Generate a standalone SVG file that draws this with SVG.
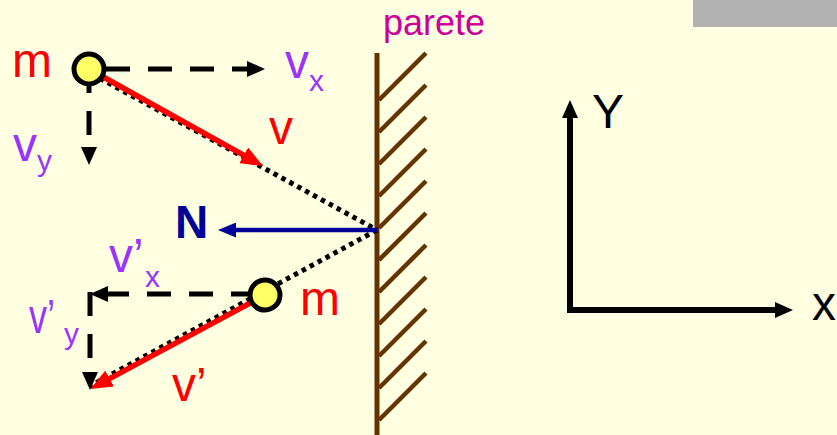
<svg xmlns="http://www.w3.org/2000/svg" width="837" height="435" viewBox="0 0 837 435">
<style>
text{font-family:"Liberation Sans",Arial,sans-serif}
.big{font-size:48px}
.sub{font-size:30px}
.red{fill:#FF0000}
.pur{fill:#9933FF}
.dash{fill:none;stroke:#000;stroke-width:5;stroke-dasharray:24 18}
.dot{fill:none;stroke:#000;stroke-width:5;stroke-dasharray:4.5 4.5}
.vel{fill:none;stroke:#FF0000;stroke-width:5.5}
.ball{fill:#FFFF66;stroke:#000;stroke-width:5}
.hatch{stroke:#663300;stroke-width:4.5}
</style>
<defs>
<marker id="ab" markerUnits="userSpaceOnUse" markerWidth="18" markerHeight="16" refX="8" refY="8" orient="auto"><path d="M0,0 L18,8 L0,16 z" fill="#000"/></marker>
<marker id="ar" markerUnits="userSpaceOnUse" markerWidth="22" markerHeight="18" refX="9" refY="9" orient="auto"><path d="M0,0 L22,9 L0,18 z" fill="#FF0000"/></marker>
<marker id="an" markerUnits="userSpaceOnUse" markerWidth="18" markerHeight="15" refX="8" refY="7.5" orient="auto"><path d="M0,0 L18,7.5 L0,15 z" fill="#000099"/></marker>
<marker id="aa" markerUnits="userSpaceOnUse" markerWidth="18" markerHeight="16" refX="6" refY="8" orient="auto-start-reverse"><path d="M0,0 L18,8 L0,16 z" fill="#000"/></marker>
</defs>
<rect width="837" height="435" fill="#FFFFE1"/>
<rect x="693" y="0" width="144" height="27" fill="#B2B2B2"/>

<g id="wall">
<line x1="377" y1="53" x2="377" y2="435" stroke="#663300" stroke-width="5"/>
<path class="hatch" d="M379,100 L426,53 M379,132 L426,85 M379,164 L426,117 M379,196 L426,149 M379,228 L426,181 M379,260 L426,213 M379,292 L426,245 M379,324 L426,277 M379,356 L426,309 M379,388 L426,341 M379,420 L426,373"/>
<text x="383" y="35" font-size="36" fill="#CC0099">parete</text>
</g>

<g id="connectors">
<path class="dot" d="M92,74 L377,230"/>
<path class="dot" d="M377,230 L90,386"/>
<path class="vel" d="M89,69 L251.6,159.7" marker-end="url(#ar)"/>
<path class="vel" d="M265,295 L101.7,382.8" marker-end="url(#ar)"/>
<path class="dash" d="M89,69 L255,69" stroke-dashoffset="25" marker-end="url(#ab)"/>
<path class="dash" d="M89,69 L89,155" marker-end="url(#ab)"/>
<path class="dash" d="M265,294 L100,294" stroke-dashoffset="32" marker-end="url(#ab)"/>
<path class="dash" d="M90,292 L90,380" marker-end="url(#ab)"/>
<path d="M377,230 L228,230" stroke="#000099" stroke-width="4.5" fill="none" marker-end="url(#an)"/>
</g>

<g id="ball-top">
<circle class="ball" cx="89" cy="69" r="15"/>
<text class="big red" x="12" y="77">m</text>
</g>
<g id="ball-bottom">
<circle class="ball" cx="265" cy="295" r="15"/>
<text class="big red" x="300" y="315">m</text>
</g>

<g id="labels">
<text class="big pur" x="285" y="78">v</text>
<text class="sub pur" x="309" y="91">x</text>
<text class="big red" x="269" y="144">v</text>
<text class="big pur" x="13" y="161">v</text>
<text class="sub pur" x="37" y="171">y</text>
<text x="175" y="238" font-size="46" font-weight="bold" fill="#000099">N</text>
<text class="big pur" x="109" y="272">v’</text>
<text class="sub pur" x="145" y="287">x</text>
<text class="big pur" transform="translate(29,333) scale(0.75,1)">v’</text>
<text class="sub pur" x="64" y="344">y</text>
<text class="big red" x="172" y="401">v’</text>
</g>

<g id="axes">
<path d="M570,112 L570,310 L781,310" fill="none" stroke="#000" stroke-width="6" stroke-linejoin="miter" marker-start="url(#aa)" marker-end="url(#aa)"/>
<text class="big" x="592" y="128">Y</text>
<text class="big" x="812" y="320">x</text>
</g>
</svg>
